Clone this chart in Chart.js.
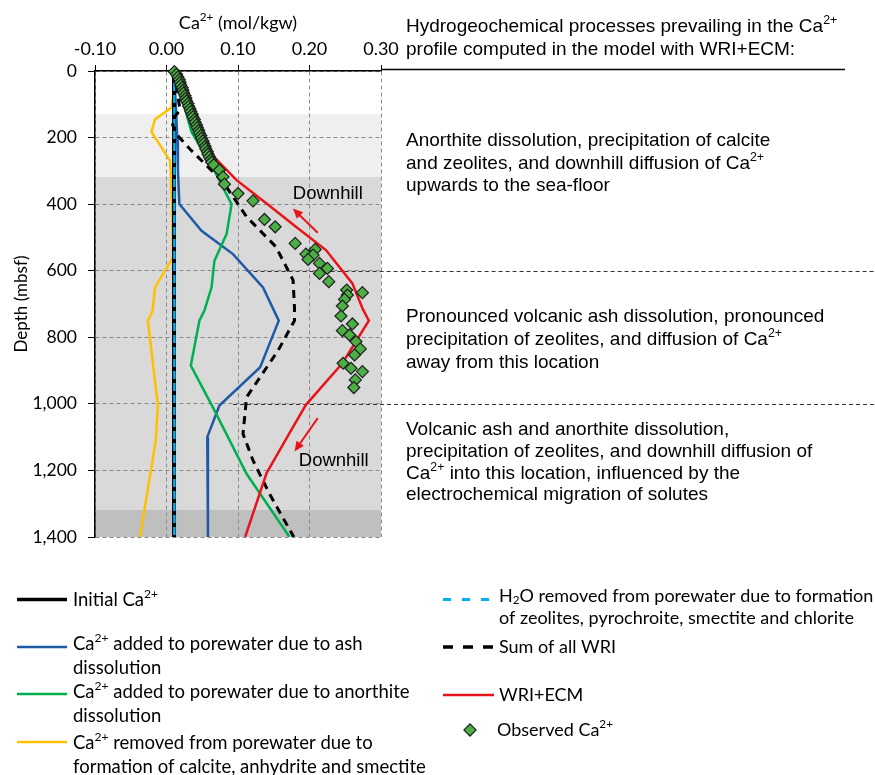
<!DOCTYPE html>
<html>
<head>
<meta charset="utf-8">
<script src="https://cdn.jsdelivr.net/npm/chart.js@4.4.1/dist/chart.umd.min.js"></script>
<style>
  html, body { margin: 0; padding: 0; background: #fff; }
  #wrap { width: 875px; height: 775px; }
</style>
</head>
<body>
<div id="wrap"><canvas id="chart" width="875" height="775"></canvas></div>
<script>
// axis ticks
const xTickValues = [-0.10, 0.00, 0.10, 0.20, 0.30];
const yTickValues = [0, 200, 400, 600, 800, 1000, 1200, 1400];

// shaded depth zones (mbsf)
const zoneTop = [130, 318, 1318];
const zoneBottom = [318, 1318, 1400];

// process boundaries drawn across to the text column (mbsf)
const boundaryDepth = [600, 1000];
const boundaryStartCa = [0.112, 0.093];

// model curves: depth (mbsf) and Ca2+ (mol/kgw)
const initialDepth = [0, 1400];
const initialCa = [0.0105, 0.0105];

const h2oDepth = [0, 1400];
const h2oCa = [0.011, 0.011];

const ashDepth = [0, 100, 200, 300, 400, 480, 550, 650, 750, 890, 1005, 1100, 1400];
const ashCa = [0.0105, 0.013, 0.015, 0.016, 0.018, 0.049, 0.093, 0.135, 0.157, 0.131, 0.074, 0.057, 0.058];

const anorDepth = [0, 50, 100, 183, 300, 400, 490, 570, 650, 720, 750, 885, 1015, 1210, 1400];
const anorCa = [0.0105, 0.017, 0.024, 0.035, 0.067, 0.091, 0.084, 0.067, 0.063, 0.053, 0.046, 0.034, 0.066, 0.112, 0.172];

const removedDepth = [0, 50, 80, 110, 145, 183, 270, 400, 560, 650, 720, 750, 1005, 1110, 1400];
const removedCa = [0.0105, 0.011, 0.009, 0.007, -0.016, -0.021, 0.005, 0.008, 0.009, -0.016, -0.0195, -0.026, -0.012, -0.015, -0.037];

const sumDepth = [0, 118, 148, 185, 235, 333, 438, 528, 628, 710, 750, 840, 980, 1090, 1170, 1270, 1400];
const sumCa = [0.0105, 0.019, 0.007, 0.012, 0.033, 0.079, 0.112, 0.153, 0.177, 0.179, 0.179, 0.156, 0.112, 0.107, 0.121, 0.144, 0.178];

const ecmDepth = [0, 100, 200, 262, 328, 398, 468, 538, 638, 713, 750, 878, 1003, 1088, 1208, 1400];
const ecmCa = [0.0105, 0.03, 0.052, 0.068, 0.098, 0.14, 0.181, 0.223, 0.26, 0.274, 0.283, 0.246, 0.195, 0.172, 0.14, 0.11];

// observed porewater Ca2+
const obsDepth = [2, 10, 18, 26, 34, 42, 50, 58, 66, 74, 82, 90, 98, 106, 114, 122, 130, 138, 146, 154,
  162, 170, 178, 186, 194, 202, 210, 218, 226, 234, 242, 250, 258, 266, 274, 282,
  298, 318, 340, 368, 390, 446, 468, 518, 536, 550, 553, 566, 578, 593, 608, 633, 658, 666, 673, 686,
  706, 736, 760, 780, 793, 813, 835, 853, 878, 893, 903, 928, 951];
const obsCa = [0.011, 0.014, 0.016, 0.018, 0.019, 0.020, 0.022, 0.023, 0.024, 0.026, 0.027, 0.028, 0.030, 0.031, 0.033, 0.034, 0.036, 0.037, 0.039, 0.040,
  0.042, 0.043, 0.045, 0.046, 0.048, 0.049, 0.051, 0.052, 0.054, 0.055, 0.057, 0.058, 0.060, 0.062, 0.063, 0.066,
  0.074, 0.079, 0.081, 0.100, 0.121, 0.137, 0.152, 0.180, 0.208, 0.195, 0.205, 0.198, 0.214, 0.225, 0.214, 0.227, 0.252, 0.274, 0.253, 0.249,
  0.246, 0.244, 0.260, 0.246, 0.256, 0.265, 0.271, 0.263, 0.247, 0.258, 0.274, 0.264, 0.262];

// "Downhill" arrows: [Ca, depth] start -> end
const arrowFrom = [[0.2115, 486], [0.2115, 1043]];
const arrowTo = [[0.1767, 413], [0.179, 1143]];
const downhillAt = [[0.1767, 369], [0.185, 1170]];

const CALIBRI = 'Lato, "Open Sans", sans-serif';
const ARIAL = '"Liberation Sans", Arial, sans-serif';
const RED = '#e8141b', BLUE = '#1f5aa6', GREEN = '#00b050', YELLOW = '#ffc000', CYAN = '#00b0f0';
const ZONE_COLORS = ['#efefef', '#d9d9d9', '#bfbfbf'];

function pts(depths, vals) {
  return depths.map((d, i) => ({ x: vals[i], y: d }));
}

// text with ^{sup} and _{sub}
function drawRich(ctx, str, x, y, size, family, align) {
  const parts = str.split(/(\^\{[^}]*\}|_\{[^}]*\})/).filter(s => s.length);
  const segs = parts.map(p => {
    if (p.startsWith('^{')) return { t: p.slice(2, -1), s: size * 0.65, dy: -size * 0.32 };
    if (p.startsWith('_{')) return { t: p.slice(2, -1), s: size * 0.65, dy: size * 0.22 };
    return { t: p, s: size, dy: 0 };
  });
  let w = 0;
  segs.forEach(g => { ctx.font = g.s + 'px ' + family; g.w = ctx.measureText(g.t).width; w += g.w; });
  let cx = align === 'center' ? x - w / 2 : x;
  ctx.textAlign = 'left';
  ctx.textBaseline = 'middle';
  ctx.fillStyle = '#000';
  segs.forEach(g => {
    ctx.font = g.s + 'px ' + family;
    ctx.fillText(g.t, cx, y + g.dy);
    cx += g.w;
  });
}

function seg(ctx, x1, y1, x2, y2, color, width, dash) {
  ctx.save();
  ctx.strokeStyle = color;
  ctx.lineWidth = width;
  ctx.setLineDash(dash || []);
  ctx.beginPath();
  ctx.moveTo(x1, y1);
  ctx.lineTo(x2, y2);
  ctx.stroke();
  ctx.restore();
}

const zonesPlugin = {
  id: 'zones',
  beforeDraw(chart) {
    const { ctx, chartArea: a, scales: { y } } = chart;
    ctx.save();
    zoneTop.forEach((t, i) => {
      const y1 = y.getPixelForValue(t), y2 = y.getPixelForValue(zoneBottom[i]);
      ctx.fillStyle = ZONE_COLORS[i];
      ctx.fillRect(a.left, y1, a.right - a.left, y2 - y1);
    });
    ctx.restore();
  },
  beforeDatasetsDraw(chart) {
    const { ctx, scales: { x, y } } = chart;
    boundaryDepth.forEach((d, i) => {
      const py = Math.round(y.getPixelForValue(d)) + 0.5;
      seg(ctx, x.getPixelForValue(boundaryStartCa[i]), py, 875, py, '#333', 1, [4, 3]);
    });
  },
  afterDatasetsDraw(chart) {
    const { ctx, scales: { x, y } } = chart;
    arrowFrom.forEach((f, i) => {
      const x1 = x.getPixelForValue(f[0]), y1 = y.getPixelForValue(f[1]);
      const x2 = x.getPixelForValue(arrowTo[i][0]), y2 = y.getPixelForValue(arrowTo[i][1]);
      const ang = Math.atan2(y2 - y1, x2 - x1);
      seg(ctx, x1, y1, x2 - 6 * Math.cos(ang), y2 - 6 * Math.sin(ang), RED, 2);
      ctx.save();
      ctx.fillStyle = RED;
      ctx.beginPath();
      ctx.moveTo(x2, y2);
      ctx.lineTo(x2 - 10 * Math.cos(ang) + 4.5 * Math.sin(ang), y2 - 10 * Math.sin(ang) - 4.5 * Math.cos(ang));
      ctx.lineTo(x2 - 10 * Math.cos(ang) - 4.5 * Math.sin(ang), y2 - 10 * Math.sin(ang) + 4.5 * Math.cos(ang));
      ctx.closePath();
      ctx.fill();
      ctx.restore();
    });
    downhillAt.forEach(p => {
      drawRich(ctx, 'Downhill', x.getPixelForValue(p[0]), y.getPixelForValue(p[1]), 18.5, ARIAL, 'left');
    });
  },
  afterDraw(chart) {
    const { ctx, chartArea: a } = chart;
    // x axis title
    drawRich(ctx, 'Ca^{2+} (mol/kgw)', (a.left + a.right) / 2, 23, 18, CALIBRI, 'center');
    // header rule continuing the top axis
    seg(ctx, a.right, 69.5, 845, 69.5, '#000', 1.5);

    // process descriptions
    const T = 19, tx = 406;
    drawRich(ctx, 'Hydrogeochemical processes prevailing in the Ca^{2+}', tx, 27, T, ARIAL);
    drawRich(ctx, 'profile computed in the model with WRI+ECM:', tx, 50, T, ARIAL);
    drawRich(ctx, 'Anorthite dissolution, precipitation of calcite', tx, 141, T, ARIAL);
    drawRich(ctx, 'and zeolites, and downhill diffusion of Ca^{2+}', tx, 163.5, T, ARIAL);
    drawRich(ctx, 'upwards to the sea-floor', tx, 186, T, ARIAL);
    drawRich(ctx, 'Pronounced volcanic ash dissolution, pronounced', tx, 317, T, ARIAL);
    drawRich(ctx, 'precipitation of zeolites, and diffusion of Ca^{2+}', tx, 340, T, ARIAL);
    drawRich(ctx, 'away from this location', tx, 362.5, T, ARIAL);
    drawRich(ctx, 'Volcanic ash and anorthite dissolution,', tx, 430, T, ARIAL);
    drawRich(ctx, 'precipitation of zeolites, and downhill diffusion of', tx, 452, T, ARIAL);
    drawRich(ctx, 'Ca^{2+} into this location, influenced by the', tx, 473.5, T, ARIAL);
    drawRich(ctx, 'electrochemical migration of solutes', tx, 495, T, ARIAL);

    // legend, left column
    const L = 18.5, R = 18;
    seg(ctx, 17, 599.5, 67, 599.5, '#000', 3.5);
    drawRich(ctx, 'Initial Ca^{2+}', 73, 600, L, CALIBRI);
    seg(ctx, 17, 647, 67, 647, BLUE, 2.5);
    drawRich(ctx, 'Ca^{2+} added to porewater due to ash', 73, 644, L, CALIBRI);
    drawRich(ctx, 'dissolution', 73, 668, L, CALIBRI);
    seg(ctx, 17, 694, 67, 694, GREEN, 2.5);
    drawRich(ctx, 'Ca^{2+} added to porewater due to anorthite', 73, 692, L, CALIBRI);
    drawRich(ctx, 'dissolution', 73, 716, L, CALIBRI);
    seg(ctx, 17, 742, 67, 742, YELLOW, 2.5);
    drawRich(ctx, 'Ca^{2+} removed from porewater due to', 73, 743, L, CALIBRI);
    drawRich(ctx, 'formation of calcite, anhydrite and smectite', 73, 767, L, CALIBRI);

    // legend, right column
    seg(ctx, 443, 599.5, 494, 599.5, CYAN, 3, [8, 11]);
    drawRich(ctx, 'H_{2}O removed from porewater due to formation', 499, 596, R, CALIBRI);
    drawRich(ctx, 'of zeolites, pyrochroite, smectite and chlorite', 499, 618, R, CALIBRI);
    seg(ctx, 443, 647, 494, 647, '#000', 3.5, [10, 10]);
    drawRich(ctx, 'Sum of all WRI', 499, 647, R, CALIBRI);
    seg(ctx, 443, 695, 494, 695, RED, 2.5);
    drawRich(ctx, 'WRI+ECM', 499, 695, R, CALIBRI);
    ctx.save();
    ctx.translate(470, 730);
    ctx.rotate(Math.PI / 4);
    ctx.fillStyle = '#4caf45';
    ctx.strokeStyle = '#1e1e1e';
    ctx.lineWidth = 1.2;
    ctx.fillRect(-4.3, -4.3, 8.6, 8.6);
    ctx.strokeRect(-4.3, -4.3, 8.6, 8.6);
    ctx.restore();
    drawRich(ctx, 'Observed Ca^{2+}', 497, 730, R, CALIBRI);
  }
};

function lineSet(label, data, color, width, order, dash) {
  return {
    label, data, showLine: true, borderColor: color, backgroundColor: color,
    borderWidth: width, borderDash: dash || [], pointRadius: 0, order, tension: 0
  };
}

function build() {
  new Chart(document.getElementById('chart'), {
    type: 'scatter',
    data: {
      datasets: [
        {
          label: 'Observed Ca2+', data: pts(obsDepth, obsCa), pointStyle: 'rectRot', pointRadius: 6,
          backgroundColor: '#4caf45', borderColor: '#1e1e1e', borderWidth: 1.2, order: 0, clip: false
        },
        lineSet('WRI+ECM', pts(ecmDepth, ecmCa), RED, 2.5, 1),
        lineSet('Sum of all WRI', pts(sumDepth, sumCa), '#000', 3, 2, [8, 6]),
        lineSet('H2O removed', pts(h2oDepth, h2oCa), CYAN, 2.5, 3, [8, 4]),
        lineSet('Initial Ca2+', pts(initialDepth, initialCa), '#000', 4, 4),
        lineSet('Anorthite', pts(anorDepth, anorCa), GREEN, 2.5, 5),
        lineSet('Ash', pts(ashDepth, ashCa), BLUE, 2.5, 6),
        lineSet('Removed', pts(removedDepth, removedCa), YELLOW, 2.5, 7)
      ]
    },
    options: {
      responsive: false,
      animation: false,
      layout: { padding: { left: 0, top: 0, right: 494, bottom: 238 } },
      plugins: { legend: { display: false }, tooltip: { enabled: false } },
      scales: {
        x: {
          type: 'linear', position: 'top', min: -0.1, max: 0.3,
          afterBuildTicks: s => { s.ticks = xTickValues.map(v => ({ value: v })); },
          afterFit: s => { s.height = 71; },
          ticks: {
            callback: v => v.toFixed(2), color: '#000', padding: 5, maxRotation: 0, autoSkip: false,
            font: { family: CALIBRI, size: 18 }
          },
          grid: { color: '#8a8a8a', tickColor: '#000', tickLength: 6, lineWidth: 1 },
          border: { display: true, color: '#000', width: 1.5, dash: [4, 3] }
        },
        y: {
          type: 'linear', reverse: true, min: 0, max: 1400,
          afterBuildTicks: s => { s.ticks = yTickValues.map(v => ({ value: v })); },
          afterFit: s => { s.width = 95; },
          ticks: {
            callback: v => v.toLocaleString('en-US'), color: '#000', padding: 11, autoSkip: false,
            font: { family: CALIBRI, size: 17.5 }
          },
          grid: { color: '#8a8a8a', tickColor: '#000', tickLength: 7, lineWidth: 1 },
          border: { display: true, color: '#000', width: 1.5, dash: [4, 3] },
          title: {
            display: true, text: 'Depth (mbsf)', color: '#000',
            font: { family: CALIBRI, size: 17 }, padding: { top: 11, bottom: 0 }
          }
        }
      }
    },
    plugins: [zonesPlugin]
  });
}

Promise.all([
  document.fonts.load('18px Lato'),
  document.fonts.load('18px "Liberation Sans"')
]).then(build, build);
</script>
</body>
</html>
